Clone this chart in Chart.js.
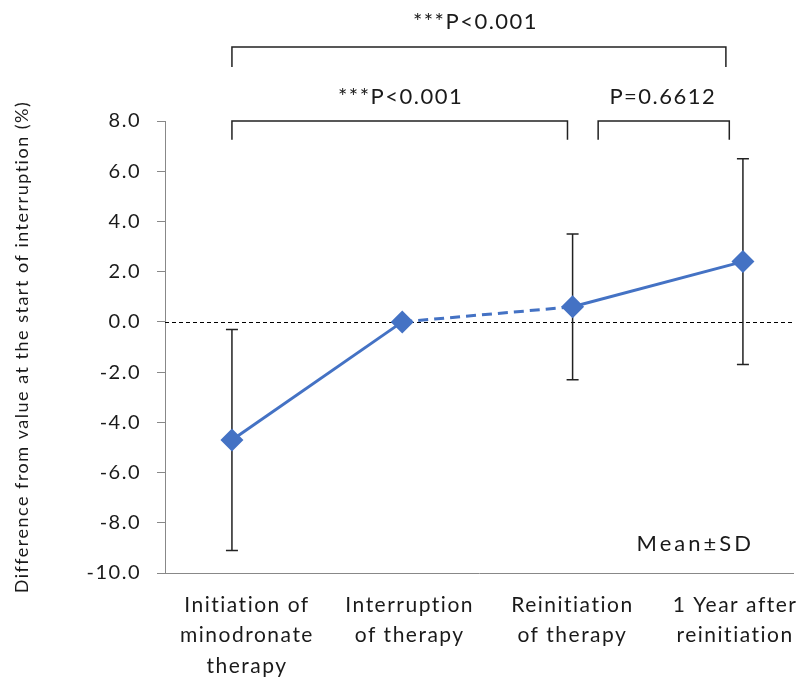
<!DOCTYPE html>
<html><head><meta charset="utf-8">
<script src="https://cdn.jsdelivr.net/npm/chart.js@4.4.1/dist/chart.umd.min.js"></script>
<style>html,body{margin:0;padding:0;background:#fff;overflow:hidden}#wrap{width:796px;height:679px}</style>
</head><body><div id="wrap"><canvas id="c" width="796" height="679" style="display:block"></canvas></div>
<script>
// ---- data ----
const categories = [["Initiation of","minodronate","therapy"],["Interruption","of therapy"],["Reinitiation","of therapy"],["1 Year after","reinitiation"]];
const meanValues = [-4.7, 0.0, 0.6, 2.4];
const sdUpper = [-0.3, null, 3.5, 6.5];
const sdLower = [-9.1, null, -2.3, -1.7];
const yTickValues = [-10, -8, -6, -4, -2, 0, 2, 4, 6, 8];
const yAxisTitle = "Difference from value at the start of interruption (%)";
const comparisonPairs = [[0, 3], [0, 2], [2, 3]];
const comparisonLabels = ["***P<0.001", "***P<0.001", "P=0.6612"];
const noteText = "Mean\u00B1SD";

const FONT = "Lato";
const TEXT = "#1a1a1a";
const BLUE = "#4472C4";
const SPACING = "1.5px";

// annotation placement (data units)
const bracketGeom = [
  {x0: 0.0, x1: 2.9, level: 10.95, drop: 0.8, lx: 1.43, ly: 11.95},
  {x0: 0.0, x1: 1.97, level: 8.0, drop: 0.75, lx: 0.99, ly: 8.97},
  {x0: 2.15, x1: 2.92, level: 8.0, drop: 0.75, lx: 2.53, ly: 8.97}
];

const spacingPlugin = {
  id: 'spacing',
  beforeUpdate(chart) { chart.ctx.letterSpacing = SPACING; },
  beforeDraw(chart) { chart.ctx.letterSpacing = SPACING; }
};

const annot = {
  id: 'annot',
  beforeDatasetsDraw(chart) {
    const {ctx, chartArea, scales: {x, y}} = chart;
    ctx.save();
    ctx.strokeStyle = '#000'; ctx.lineWidth = 1; ctx.setLineDash([4, 3]);
    const y0 = Math.round(y.getPixelForValue(0)) + 0.5;
    ctx.beginPath(); ctx.moveTo(chartArea.left, y0); ctx.lineTo(chartArea.right, y0); ctx.stroke();
    ctx.setLineDash([]);
    ctx.strokeStyle = '#222'; ctx.lineWidth = 1.5;
    meanValues.forEach((m, i) => {
      if (sdUpper[i] == null) return;
      const px = x.getPixelForValue(i);
      const pu = y.getPixelForValue(sdUpper[i]);
      const pl = y.getPixelForValue(sdLower[i]);
      ctx.beginPath();
      ctx.moveTo(px, pu); ctx.lineTo(px, pl);
      ctx.moveTo(px - 6, pu); ctx.lineTo(px + 6, pu);
      ctx.moveTo(px - 6, pl); ctx.lineTo(px + 6, pl);
      ctx.stroke();
    });
    ctx.restore();
  },
  afterDraw(chart) {
    const {ctx, scales: {x, y}} = chart;
    ctx.save();
    ctx.letterSpacing = SPACING;
    ctx.strokeStyle = '#222'; ctx.lineWidth = 1.5;
    ctx.fillStyle = TEXT;
    ctx.font = "22px " + FONT;
    ctx.textAlign = 'center'; ctx.textBaseline = 'middle';
    comparisonPairs.forEach((p, k) => {
      const g = bracketGeom[k];
      const xa = x.getPixelForValue(g.x0), xb = x.getPixelForValue(g.x1);
      const yl = y.getPixelForValue(g.level), yd = y.getPixelForValue(g.level - g.drop);
      ctx.beginPath();
      ctx.moveTo(xa, yd); ctx.lineTo(xa, yl); ctx.lineTo(xb, yl); ctx.lineTo(xb, yd);
      ctx.stroke();
      ctx.fillText(comparisonLabels[k], x.getPixelForValue(g.lx), y.getPixelForValue(g.ly));
    });
    ctx.letterSpacing = "3px";
    ctx.font = "22px " + FONT;
    ctx.fillText(noteText, x.getPixelForValue(2.72), y.getPixelForValue(-8.84));
    ctx.restore();
  }
};

new Chart(document.getElementById('c'), {
  type: 'line',
  data: {
    datasets: [{
      xAxisID: 'x',
      data: meanValues.map((v, i) => ({x: i, y: v})),
      borderColor: BLUE,
      backgroundColor: BLUE,
      borderWidth: 3,
      pointStyle: 'rectRot',
      pointRadius: 11.5,
      pointBorderWidth: 0,
      pointBackgroundColor: BLUE,
      tension: 0,
      clip: false,
      segment: {
        borderDash: ctx => ctx.p0DataIndex === 1 ? [10, 6] : undefined
      }
    }]
  },
  options: {
    responsive: false,
    animation: false,
    events: [],
    layout: {autoPadding: false, padding: {top: 121, right: 3, bottom: 0, left: 10}},
    plugins: {legend: {display: false}, tooltip: {enabled: false}},
    scales: {
      x: {
        type: 'linear', position: 'bottom', display: false,
        min: -0.393, max: 3.294
      },
      xl: {
        type: 'linear', position: 'bottom', axis: 'x',
        min: -0.504, max: 3.356,
        grid: {display: false, drawTicks: false},
        border: {display: true, color: '#888', width: 1},
        afterBuildTicks: s => { s.ticks = categories.map((c, i) => ({value: i})); },
        afterFit: s => { s.height = 106; s.paddingLeft = 0; s.paddingRight = 0; },
        ticks: {
          autoSkip: false, maxRotation: 0,
          padding: 17,
          color: TEXT,
          font: {family: FONT, size: 21, lineHeight: 1.45},
          callback: (v, i) => categories[i]
        }
      },
      y: {
        min: -10, max: 8,
        afterBuildTicks: s => { s.ticks = yTickValues.map(v => ({value: v})); },
        afterFit: s => { s.width = 155; },
        grid: {display: true, drawOnChartArea: false, drawTicks: true, tickLength: 8, color: '#888'},
        border: {display: true, color: '#888', width: 1},
        ticks: {
          padding: 16, color: TEXT,
          font: {family: FONT, size: 20},
          callback: v => Number(v).toFixed(1)
        },
        title: {
          display: true, text: yAxisTitle, color: TEXT,
          font: {family: FONT, size: 18},
          padding: {top: 1, bottom: 0}
        }
      }
    }
  },
  plugins: [spacingPlugin, annot]
});
</script>
</body></html>
